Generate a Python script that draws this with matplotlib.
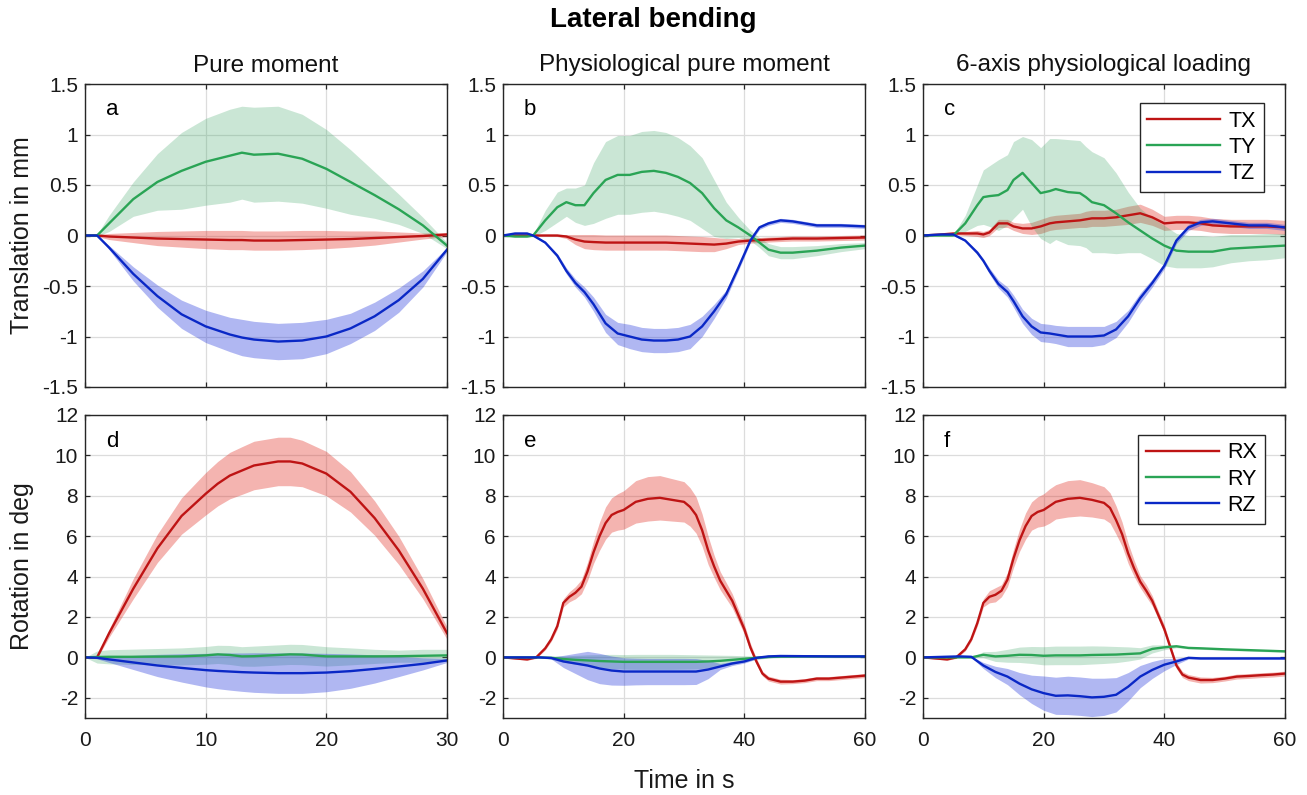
#!/usr/bin/env python3
"""
Lateral bending: mean +/- SD of segment translations (top) and rotations
(bottom) for three loading modes. Writes out.png.
"""

import matplotlib
matplotlib.use("Agg")
import matplotlib.pyplot as plt
import numpy as np

plt.rcParams["font.family"] = ["Liberation Sans", "DejaVu Sans"]

# ---------------------------------------------------------------- data
# (a) pure moment, translations in mm
t_a = [0, 1, 2, 4, 6, 8, 10, 12, 13, 14, 16, 18, 20, 22, 24, 26, 28, 30]
tx_a = [0, 0, -0.01, -0.02, -0.03, -0.035, -0.04, -0.045, -0.045, -0.05,
        -0.05, -0.045, -0.04, -0.035, -0.025, -0.015, -0.005, 0.01]
tx_a_sd = [0, 0.01, 0.03, 0.05, 0.07, 0.08, 0.09, 0.095, 0.095, 0.095,
           0.095, 0.095, 0.09, 0.08, 0.07, 0.05, 0.03, 0.02]
ty_a = [0, 0, 0.12, 0.36, 0.53, 0.64, 0.73, 0.79, 0.82, 0.8, 0.81, 0.76,
        0.66, 0.53, 0.40, 0.26, 0.10, -0.1]
ty_a_sd = [0, 0.01, 0.08, 0.17, 0.28, 0.38, 0.43, 0.46, 0.46, 0.47, 0.47,
           0.44, 0.39, 0.32, 0.23, 0.15, 0.08, 0.03]
tz_a = [0, 0, -0.12, -0.38, -0.6, -0.78, -0.9, -0.98, -1.01, -1.03, -1.05,
        -1.04, -1.0, -0.92, -0.8, -0.64, -0.43, -0.14]
tz_a_sd = [0, 0, 0.02, 0.07, 0.11, 0.14, 0.16, 0.17, 0.18, 0.18, 0.18,
           0.18, 0.17, 0.15, 0.14, 0.12, 0.08, 0.02]

# (b) physiological pure moment, translations in mm
t_b = [0, 2, 4, 5, 7, 9, 10.5, 12, 13.5, 15, 17, 19, 21, 23, 25, 27, 29, 31,
       33, 35, 37, 39, 41, 42.5, 44, 46, 48, 52, 56, 60]
tx_b = [0, 0, 0, 0, 0, 0, -0.01, -0.04, -0.06, -0.065,
        -0.07, -0.07, -0.07, -0.07, -0.07, -0.07, -0.075, -0.08, -0.085, -0.09,
        -0.08, -0.06, -0.05, -0.045, -0.04, -0.035, -0.03, -0.03, -0.025, -0.02]
tx_b_sd = [0.005, 0.005, 0.005, 0.005, 0.005, 0.01, 0.02, 0.05, 0.07, 0.075,
           0.075, 0.075, 0.075, 0.075, 0.075, 0.075, 0.075, 0.075, 0.075, 0.07,
           0.05, 0.03, 0.025, 0.025, 0.025, 0.025, 0.025, 0.025, 0.025, 0.025]
ty_b = [0, -0.01, -0.01, 0.0, 0.15, 0.28, 0.33, 0.3, 0.3, 0.42,
        0.55, 0.6, 0.6, 0.63, 0.64, 0.62, 0.58, 0.52, 0.42, 0.27,
        0.15, 0.08, 0.0, -0.07, -0.14, -0.17, -0.17, -0.15, -0.12, -0.1]
ty_b_sd = [0, 0.005, 0.005, 0.01, 0.1, 0.15, 0.14, 0.17, 0.2, 0.3,
           0.38, 0.39, 0.39, 0.40, 0.40, 0.40, 0.39, 0.37, 0.35, 0.28,
           0.18, 0.1, 0.05, 0.05, 0.06, 0.06, 0.06, 0.05, 0.04, 0.03]
tz_b = [0, 0.02, 0.02, 0.0, -0.07, -0.2, -0.35, -0.47, -0.56, -0.68,
        -0.87, -0.97, -1.0, -1.03, -1.04, -1.04, -1.03, -1.0, -0.9, -0.75,
        -0.58, -0.32, -0.05, 0.08, 0.12, 0.15, 0.14, 0.1, 0.1, 0.09]
tz_b_sd = [0, 0.01, 0.01, 0.01, 0.01, 0.02, 0.03, 0.04, 0.05, 0.07,
           0.09, 0.11, 0.12, 0.12, 0.12, 0.12, 0.12, 0.12, 0.1, 0.07,
           0.04, 0.03, 0.02, 0.02, 0.02, 0.02, 0.02, 0.02, 0.02, 0.02]

# (c) 6-axis physiological loading, translations in mm
t_c = [0, 3, 5, 7, 9, 10, 11, 12.5, 14, 15, 16.5, 18, 19.5, 21, 22, 24, 26,
       27, 28, 30, 32, 34, 36, 38, 40, 42, 44, 46, 48, 51, 54, 57, 60]
tx_c = [0, 0.01, 0.02, 0.02, 0.02, 0.01, 0.03, 0.12, 0.12, 0.09,
        0.07, 0.07, 0.09, 0.12, 0.13, 0.14, 0.15, 0.16, 0.17, 0.17,
        0.18, 0.2, 0.22, 0.18, 0.12, 0.13, 0.13, 0.12, 0.1, 0.09,
        0.09, 0.09, 0.08]
tx_c_sd = [0, 0.005, 0.01, 0.02, 0.03, 0.03, 0.03, 0.04, 0.04, 0.04,
           0.05, 0.06, 0.07, 0.07, 0.07, 0.07, 0.07, 0.08, 0.08, 0.08,
           0.08, 0.09, 0.09, 0.08, 0.07, 0.07, 0.07, 0.07, 0.07, 0.07,
           0.07, 0.07, 0.07]
ty_c = [0, 0, 0, 0.12, 0.3, 0.38, 0.39, 0.4, 0.45, 0.55,
        0.62, 0.52, 0.42, 0.44, 0.46, 0.43, 0.42, 0.38, 0.33, 0.3,
        0.22, 0.13, 0.05, -0.03, -0.1, -0.15, -0.16, -0.16, -0.16, -0.13,
        -0.12, -0.11, -0.1]
ty_c_sd = [0, 0, 0.005, 0.08, 0.2, 0.27, 0.3, 0.35, 0.35, 0.38,
           0.36, 0.43, 0.45, 0.52, 0.5, 0.52, 0.52, 0.5, 0.5, 0.47,
           0.4, 0.3, 0.22, 0.2, 0.2, 0.17, 0.16, 0.16, 0.15, 0.14,
           0.13, 0.13, 0.12]
tz_c = [0, 0.01, 0.01, -0.05, -0.17, -0.25, -0.35, -0.48, -0.56, -0.65,
        -0.8, -0.9, -0.96, -0.97, -0.98, -1.0, -1.0, -1.0, -1.0, -0.99,
        -0.93, -0.8, -0.62, -0.47, -0.3, -0.05, 0.08, 0.13, 0.14, 0.12,
        0.1, 0.1, 0.08]
tz_c_sd = [0, 0.01, 0.01, 0.01, 0.02, 0.02, 0.03, 0.04, 0.05, 0.06,
           0.07, 0.08, 0.09, 0.09, 0.09, 0.1, 0.1, 0.1, 0.1, 0.09,
           0.08, 0.06, 0.05, 0.04, 0.03, 0.03, 0.03, 0.03, 0.03, 0.03,
           0.03, 0.03, 0.03]

# (d) pure moment, rotations in deg
t_d = [0, 1, 2, 4, 6, 8, 10, 11, 12, 13, 14, 16, 17, 18, 20, 22, 24, 26, 28, 30]
rx_d = [0, 0.0, 1.2, 3.4, 5.4, 7.0, 8.1, 8.6, 9.0, 9.25,
        9.5, 9.7, 9.7, 9.6, 9.1, 8.2, 6.9, 5.3, 3.4, 1.2]
rx_d_sd = [0, 0.05, 0.2, 0.5, 0.7, 0.9, 1.05, 1.1, 1.15, 1.18,
           1.2, 1.2, 1.2, 1.15, 1.1, 1.0, 0.85, 0.7, 0.5, 0.3]
ry_d = [0, 0.02, 0.03, 0.03, 0.04, 0.05, 0.1, 0.15, 0.12, 0.05,
        0.06, 0.12, 0.15, 0.14, 0.05, 0.05, 0.05, 0.06, 0.08, 0.1]
ry_d_sd = [0, 0.3, 0.35, 0.38, 0.4, 0.42, 0.44, 0.45, 0.47, 0.48,
           0.5, 0.5, 0.5, 0.5, 0.48, 0.42, 0.35, 0.3, 0.32, 0.3]
rz_d = [0, -0.02, -0.1, -0.25, -0.4, -0.52, -0.63, -0.67, -0.7, -0.73,
        -0.75, -0.78, -0.78, -0.78, -0.75, -0.68, -0.57, -0.45, -0.32, -0.15]
rz_d_sd = [0, 0.05, 0.15, 0.35, 0.55, 0.7, 0.83, 0.88, 0.92, 0.95,
           0.98, 1.0, 1.0, 1.0, 0.95, 0.85, 0.7, 0.5, 0.3, 0.1]

# (e), (f) rotations in deg; RX sampled densely, RY/RZ on a coarser grid
t_ef_rx = [0, 2, 4, 5.5, 7, 8, 9, 10, 11, 12, 13, 14, 15, 16, 17, 18, 19, 20,
           21, 22, 24, 26, 28, 30, 31, 32, 33, 34, 35, 36, 37, 38, 39, 40, 41,
           42, 43, 44, 46, 48, 50, 52, 54, 56, 58, 60]
t_ef_ryz = [0, 6, 8, 10, 12, 14, 16, 18, 20, 22, 24, 26, 28, 30, 32, 34, 36,
            38, 40, 42, 44, 46, 50, 55, 60]

rx_e = [0, -0.05, -0.1, 0.0, 0.45, 0.9, 1.55, 2.7, 3.0, 3.2,
        3.5, 4.25, 5.2, 6.0, 6.65, 7.05, 7.2, 7.3, 7.5, 7.7,
        7.85, 7.9, 7.8, 7.7, 7.45, 7.05, 6.3, 5.3, 4.5, 3.8,
        3.3, 2.8, 2.1, 1.4, 0.5, -0.2, -0.8, -1.05, -1.2, -1.2,
        -1.15, -1.05, -1.05, -1.0, -0.95, -0.9]
rx_e_sd = [0.02, 0.03, 0.04, 0.05, 0.08, 0.1, 0.15, 0.2, 0.25, 0.3,
           0.35, 0.45, 0.55, 0.7, 0.8, 0.85, 0.9, 0.95, 1.0, 1.05,
           1.1, 1.1, 1.05, 1.0, 0.95, 0.9, 0.8, 0.7, 0.55, 0.45,
           0.4, 0.35, 0.3, 0.25, 0.2, 0.15, 0.12, 0.12, 0.12, 0.1,
           0.1, 0.1, 0.1, 0.1, 0.1, 0.1]
ry_e = [0, 0, -0.02, -0.08, -0.12, -0.15, -0.18, -0.2, -0.22, -0.22,
        -0.22, -0.22, -0.22, -0.22, -0.22, -0.2, -0.17, -0.12, -0.07, -0.02,
        0.02, 0.04, 0.05, 0.05, 0.05]
ry_e_sd = [0, 0.02, 0.08, 0.15, 0.22, 0.28, 0.32, 0.35, 0.36, 0.37,
           0.37, 0.37, 0.37, 0.36, 0.35, 0.32, 0.28, 0.22, 0.15, 0.08,
           0.05, 0.05, 0.05, 0.05, 0.05]
rz_e = [0, 0.0, -0.03, -0.2, -0.3, -0.4, -0.55, -0.65, -0.7, -0.7,
        -0.7, -0.7, -0.7, -0.7, -0.7, -0.6, -0.45, -0.3, -0.2, -0.02,
        0.05, 0.07, 0.06, 0.05, 0.05]
rz_e_sd = [0, 0.01, 0.05, 0.3, 0.5, 0.7, 0.75, 0.72, 0.68, 0.66,
           0.65, 0.65, 0.65, 0.65, 0.64, 0.45, 0.15, 0.1, 0.08, 0.06,
           0.06, 0.06, 0.06, 0.06, 0.06]

rx_f = [0, -0.05, -0.1, 0.0, 0.4, 0.9, 1.7, 2.7, 3.0, 3.1,
        3.3, 3.85, 4.9, 5.8, 6.5, 7.0, 7.2, 7.3, 7.5, 7.7,
        7.85, 7.9, 7.8, 7.65, 7.4, 6.8, 6.1, 5.15, 4.4, 3.75,
        3.3, 2.8, 2.1, 1.4, 0.5, -0.4, -0.85, -1.0, -1.12, -1.12,
        -1.05, -0.95, -0.92, -0.88, -0.85, -0.8]
rx_f_sd = [0.02, 0.03, 0.04, 0.05, 0.08, 0.1, 0.15, 0.2, 0.3, 0.35,
           0.3, 0.35, 0.45, 0.55, 0.65, 0.7, 0.75, 0.8, 0.85, 0.85,
           0.9, 0.9, 0.85, 0.8, 0.75, 0.7, 0.6, 0.5, 0.4, 0.3,
           0.3, 0.25, 0.2, 0.2, 0.15, 0.15, 0.15, 0.15, 0.15, 0.13,
           0.12, 0.12, 0.12, 0.12, 0.12, 0.12]
ry_f = [0, 0.0, 0.0, 0.13, 0.05, 0.08, 0.13, 0.12, 0.08, 0.1,
        0.1, 0.1, 0.12, 0.13, 0.14, 0.17, 0.2, 0.42, 0.5, 0.55,
        0.47, 0.45, 0.4, 0.35, 0.3]
ry_f_sd = [0, 0.0, 0.02, 0.15, 0.25, 0.32, 0.38, 0.42, 0.45, 0.46,
           0.46, 0.46, 0.45, 0.43, 0.4, 0.35, 0.28, 0.2, 0.12, 0.07,
           0.05, 0.05, 0.05, 0.05, 0.05]
rz_f = [0, 0.05, 0.03, -0.4, -0.72, -0.95, -1.3, -1.58, -1.77, -1.9,
        -1.88, -1.92, -1.98, -1.95, -1.85, -1.45, -0.95, -0.62, -0.36, -0.2,
        -0.02, -0.05, -0.05, -0.05, -0.05]
rz_f_sd = [0, 0.01, 0.02, 0.15, 0.28, 0.4, 0.55, 0.7, 0.85, 0.92,
           0.95, 0.95, 0.95, 0.92, 0.85, 0.7, 0.55, 0.42, 0.3, 0.15,
           0.06, 0.05, 0.05, 0.05, 0.05]

col_titles = ["Pure moment", "Physiological pure moment",
              "6-axis physiological loading"]
panel_letters = ["a", "b", "c", "d", "e", "f"]
trans_labels = ["TX", "TY", "TZ"]
rot_labels = ["RX", "RY", "RZ"]

# ---------------------------------------------------------------- style
LINE_COLORS = ["#BE1414", "#2AA455", "#0A28C6"]
FILL_COLORS = ["#E0281E", "#3CA564", "#1E32DC"]
FILL_ALPHA = [0.35, 0.27, 0.35]
SPINE = "#262626"

FIG_W, FIG_H = 1307, 795
COL_LEFT = [85, 503, 923]
COL_W = 362
ROW_TOP = [84, 415]
ROW_H = 303


def draw(ax, series, labels):
    for (t, mean, sd), color, fcol, alpha, lab in zip(
            series, LINE_COLORS, FILL_COLORS, FILL_ALPHA, labels):
        t = np.asarray(t, float)
        m = np.asarray(mean, float)
        s = np.asarray(sd, float)
        ax.fill_between(t, m - s, m + s, color=fcol, alpha=alpha, lw=0)
        ax.plot(t, m, color=color, lw=1.7, label=lab)


def style(ax, xmax, xstep, ylim, yticks, show_x):
    ax.set_xlim(0, xmax)
    ax.set_xticks(np.arange(0, xmax + 1, xstep))
    ax.set_ylim(*ylim)
    ax.set_yticks(yticks)
    ax.set_yticklabels([f"{v:g}" for v in yticks])
    ax.grid(True, color="#DCDCDC", lw=0.9)
    ax.set_axisbelow(True)
    ax.tick_params(direction="in", length=3.5, width=0.9, colors=SPINE,
                   top=True, right=True, labelsize=15, labelcolor="#1a1a1a")
    ax.tick_params(axis="y", pad=5)
    ax.tick_params(axis="x", pad=9)
    if not show_x:
        ax.set_xticklabels([])
    for sp in ax.spines.values():
        sp.set_color(SPINE)
        sp.set_linewidth(1.0)


def main():
    fig = plt.figure(figsize=(FIG_W / 100, FIG_H / 100), dpi=100)

    def make_ax(row, col):
        l = COL_LEFT[col] / FIG_W
        b = 1 - (ROW_TOP[row] + ROW_H) / FIG_H
        return fig.add_axes([l, b, COL_W / FIG_W, ROW_H / FIG_H])

    top = [
        [(t_a, tx_a, tx_a_sd), (t_a, ty_a, ty_a_sd), (t_a, tz_a, tz_a_sd)],
        [(t_b, tx_b, tx_b_sd), (t_b, ty_b, ty_b_sd), (t_b, tz_b, tz_b_sd)],
        [(t_c, tx_c, tx_c_sd), (t_c, ty_c, ty_c_sd), (t_c, tz_c, tz_c_sd)],
    ]
    bottom = [
        [(t_d, rx_d, rx_d_sd), (t_d, ry_d, ry_d_sd), (t_d, rz_d, rz_d_sd)],
        [(t_ef_rx, rx_e, rx_e_sd), (t_ef_ryz, ry_e, ry_e_sd),
         (t_ef_ryz, rz_e, rz_e_sd)],
        [(t_ef_rx, rx_f, rx_f_sd), (t_ef_ryz, ry_f, ry_f_sd),
         (t_ef_ryz, rz_f, rz_f_sd)],
    ]
    xmax = [30, 60, 60]
    xstep = [10, 20, 20]

    for col in range(3):
        ax = make_ax(0, col)
        draw(ax, top[col], trans_labels)
        style(ax, xmax[col], xstep[col], (-1.5, 1.5),
              [-1.5, -1, -0.5, 0, 0.5, 1, 1.5], show_x=False)
        ax.set_title(col_titles[col], fontsize=17.5, pad=9, color="#111111")
        ax.text(0.058, 0.915, panel_letters[col], transform=ax.transAxes,
                fontsize=16, va="center", ha="left")
        if col == 2:
            leg = ax.legend(loc="upper right", bbox_to_anchor=(0.942, 0.937),
                            borderaxespad=0, fontsize=15.5, handlelength=3.4,
                            labelspacing=0.25, handletextpad=0.4,
                            borderpad=0.35, fancybox=False, framealpha=1)
            leg.get_frame().set_edgecolor(SPINE)
            leg.get_frame().set_linewidth(1.0)

        ax = make_ax(1, col)
        draw(ax, bottom[col], rot_labels)
        style(ax, xmax[col], xstep[col], (-3, 12),
              [-2, 0, 2, 4, 6, 8, 10, 12], show_x=True)
        ax.text(0.058, 0.911, panel_letters[col + 3], transform=ax.transAxes,
                fontsize=16, va="center", ha="left")
        if col == 2:
            leg = ax.legend(loc="upper right", bbox_to_anchor=(0.945, 0.935),
                            borderaxespad=0, fontsize=15.5, handlelength=3.4,
                            labelspacing=0.25, handletextpad=0.4,
                            borderpad=0.35, fancybox=False, framealpha=1)
            leg.get_frame().set_edgecolor(SPINE)
            leg.get_frame().set_linewidth(1.0)

    fig.text(0.5, 1 - 20 / FIG_H, "Lateral bending", ha="center",
             va="center", fontsize=20, fontweight="bold")
    fig.text(22 / FIG_W, 1 - 235 / FIG_H, "Translation in mm", rotation=90,
             ha="center", va="center", fontsize=18, color="#1a1a1a")
    fig.text(22 / FIG_W, 1 - 566 / FIG_H, "Rotation in deg", rotation=90,
             ha="center", va="center", fontsize=18, color="#1a1a1a")
    fig.text(684 / FIG_W, 1 - 781 / FIG_H, "Time in s", ha="center",
             va="center", fontsize=18, color="#1a1a1a")

    fig.savefig("out.png", dpi=100)
    plt.close(fig)


if __name__ == "__main__":
    main()
